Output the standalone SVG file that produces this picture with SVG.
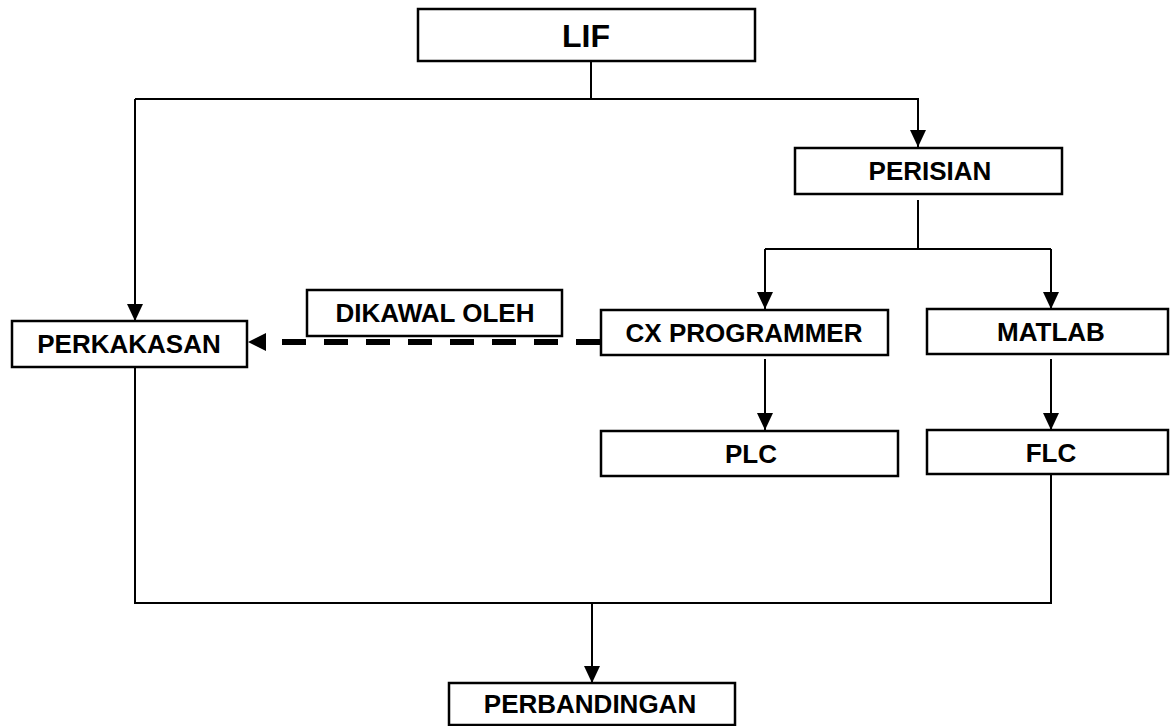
<svg xmlns="http://www.w3.org/2000/svg" width="1172" height="726" viewBox="0 0 1172 726">
<style>
.box{fill:#fff;stroke:#000;stroke-width:2.5}
.t{font-family:"Liberation Sans",Arial,sans-serif;font-weight:bold;font-size:26px;text-anchor:middle;fill:#000}
.ln{fill:none;stroke:#000;stroke-width:2}
.dash{fill:none;stroke:#000;stroke-width:6;stroke-dasharray:24 18}
</style>
<defs>
<marker id="ah" markerUnits="userSpaceOnUse" markerWidth="18" markerHeight="18" viewBox="0 0 18 18" refX="17" refY="9" orient="auto">
<path d="M0,1 L17,9 L0,17 Z" fill="#000"/>
</marker>
</defs>
<rect width="1172" height="726" fill="#fff"/>
<g id="connectors">
<path class="ln" d="M591,61 V99"/>
<path class="ln" d="M135,99 H918 V147" marker-end="url(#ah)"/>
<path class="ln" d="M135,99 V321" marker-end="url(#ah)"/>
<path class="ln" d="M918,200 V249"/>
<path class="ln" d="M765,249 H1051"/>
<path class="ln" d="M765,249 V309" marker-end="url(#ah)"/>
<path class="ln" d="M1051,249 V309" marker-end="url(#ah)"/>
<path class="ln" d="M765,359 V430" marker-end="url(#ah)"/>
<path class="ln" d="M1051,359 V430" marker-end="url(#ah)"/>
<path class="ln" d="M135,367 V603 H1051 V474"/>
<path class="ln" d="M592,603 V683" marker-end="url(#ah)"/>
<path class="dash" d="M282,342 H600"/>
<path d="M248,342 L266,333 L266,351 Z" fill="#000"/>
</g>
<g id="lif"><rect class="box" x="418" y="9" width="337" height="52"/><text class="t" x="586" y="47" style="font-size:32px">LIF</text></g>
<g id="perisian"><rect class="box" x="795" y="148" width="267" height="46"/><text class="t" x="930" y="180">PERISIAN</text></g>
<g id="perkakasan"><rect class="box" x="12" y="321" width="235" height="46"/><text class="t" x="129" y="353">PERKAKASAN</text></g>
<g id="dikawal"><rect class="box" x="307" y="290" width="255" height="46"/><text class="t" x="435" y="322">DIKAWAL OLEH</text></g>
<g id="cx"><rect class="box" x="601" y="310" width="287" height="45"/><text class="t" x="744" y="342">CX PROGRAMMER</text></g>
<g id="matlab"><rect class="box" x="927" y="309" width="241" height="45"/><text class="t" x="1051" y="341">MATLAB</text></g>
<g id="plc"><rect class="box" x="601" y="431" width="297" height="45"/><text class="t" x="751" y="463">PLC</text></g>
<g id="flc"><rect class="box" x="927" y="430" width="241" height="44"/><text class="t" x="1051" y="462">FLC</text></g>
<g id="perbandingan"><rect class="box" x="449" y="683" width="286" height="42"/><text class="t" x="590" y="713">PERBANDINGAN</text></g>
</svg>
